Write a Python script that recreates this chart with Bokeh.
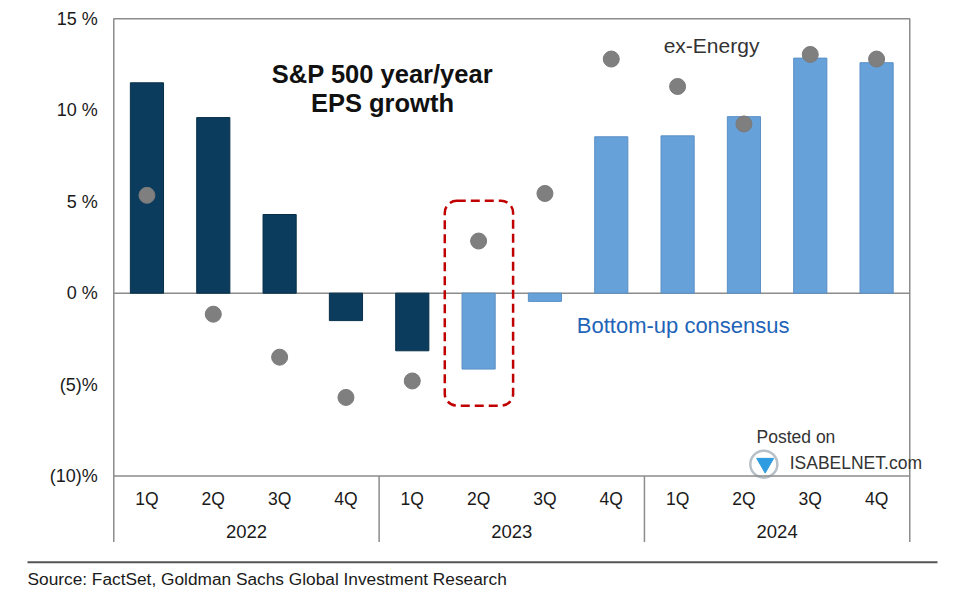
from bokeh.plotting import figure
from bokeh.models import (Range1d, FixedTicker, ColumnDataSource, Label, BoxAnnotation,
                          LinearAxis, CustomJSTickFormatter)
from bokeh.embed import file_html
from bokeh.resources import INLINE

# ---------------- data ----------------
years = ["2022", "2023", "2024"]
quarters = ["1Q", "2Q", "3Q", "4Q"]
consensus = [11.5, 9.6, 4.3, -1.5, -3.15, -4.15, -0.45, 8.55, 8.6, 9.65, 12.85, 12.6]
ex_energy = [5.35, -1.15, -3.5, -5.7, -4.8, 2.85, 5.45, 12.8, 11.3, 9.25, 13.05, 12.8]
status = ["actual"] * 5 + ["estimate"] * 7
y_ticks = [-10, -5, 0, 5, 10, 15]
y_tick_labels = ["(10)%", "(5)%", "0 %", "5 %", "10 %", "15 %"]
highlight = ("2023", "2Q")

factors = [(y, q) for y in years for q in quarters]
n = len(factors)
centers = [i + 0.5 for i in range(n)]
quarter_labels = [q for _, q in factors]
group_sizes = [sum(1 for f in factors if f[0] == y) for y in years]
bounds = [0]
for s in group_sizes:
    bounds.append(bounds[-1] + s)
group_centers = [(a + b) / 2 for a, b in zip(bounds[:-1], bounds[1:])]

bar_colors = {"actual": "#0b3c5d", "estimate": "#67a1d9"}
edge_colors = {"actual": "#072f49", "estimate": "#5a90c6"}

src = ColumnDataSource(dict(
    x=centers,
    consensus=consensus,
    ex_energy=ex_energy,
    fill=[bar_colors[s] for s in status],
    edge=[edge_colors[s] for s in status],
))

FONT = "Liberation Sans"
GRID = "#8c8c8c"
TXT = "#1a1a1a"
W, H = 960, 594
ymin, ymax = y_ticks[0], y_ticks[-1]

p = figure(x_range=Range1d(-1.708, 12.765), y_range=Range1d(-16.474, 16.0),
           width=W, height=H, output_backend="svg", toolbar_location=None,
           x_axis_type=None, y_axis_type=None,
           min_border_left=0, min_border_right=0, min_border_top=0, min_border_bottom=0)
p.xgrid.visible = False
p.ygrid.visible = False
p.outline_line_color = None
p.background_fill_color = "white"
p.border_fill_color = "white"

def style_axis(ax, size, standoff):
    ax.axis_line_color = None
    ax.major_tick_line_color = None
    ax.minor_tick_line_color = None
    ax.major_tick_out = 0
    ax.major_tick_in = 0
    ax.minor_tick_out = 0
    ax.major_label_standoff = standoff
    ax.major_label_text_font = FONT
    ax.major_label_text_font_size = size
    ax.major_label_text_color = TXT

# y axis at the left edge of the value box
yax = LinearAxis(ticker=FixedTicker(ticks=y_ticks), fixed_location=0,
                 major_label_overrides={t: l for t, l in zip(y_ticks, y_tick_labels)})
style_axis(yax, "18px", 16)
p.add_layout(yax, "left")

# quarter axis and year axis at the bottom of the value box
qax = LinearAxis(ticker=FixedTicker(ticks=centers), fixed_location=ymin,
                 formatter=CustomJSTickFormatter(args=dict(labels=quarter_labels),
                                                 code="return labels[Math.floor(tick)]"))
style_axis(qax, "17.5px", 13)
p.add_layout(qax, "below")

yrax = LinearAxis(ticker=FixedTicker(ticks=group_centers), fixed_location=ymin,
                  formatter=CustomJSTickFormatter(args=dict(labels=years, size=group_sizes[0]),
                                                  code="return labels[Math.floor(tick / size)]"))
style_axis(yrax, "18.5px", 49)
p.add_layout(yrax, "below")

# plot box
p.add_layout(BoxAnnotation(left=0, right=n, top=ymax, bottom=ymin, fill_alpha=0,
                           line_color=GRID, line_alpha=1, line_width=1.5))
# year separators and box edges extended below the box
p.segment(x0=bounds, x1=bounds, y0=[ymin] * len(bounds), y1=[-13.61] * len(bounds),
          line_color=GRID, line_width=1.5)
# zero line
p.segment(x0=[0], x1=[n], y0=[0], y1=[0], line_color=GRID, line_width=1.5)

# bars and dots
p.vbar(x="x", top="consensus", bottom=0, width=0.5, fill_color="fill",
       line_color="edge", line_width=1, source=src)
p.scatter(x="x", y="ex_energy", size=16, fill_color="#7f7f7f", line_color="#7a7a7a", source=src)

# highlight box around the highlighted quarter
hi = factors.index(highlight)
p.add_layout(BoxAnnotation(left=hi - 0.01, right=hi + 1.02, top=5.05, bottom=-6.15,
                           fill_alpha=0, line_color="#c00000", line_alpha=1, line_width=2.5,
                           line_dash="9 5", border_radius=12))

# texts (data coordinates)
def lab(x, y, text, size, color=TXT, style="normal", align="left"):
    p.add_layout(Label(x=x, y=y, text=text, text_align=align, text_baseline="alphabetic",
                       text_font=FONT, text_font_size=size, text_font_style=style,
                       text_color=color))

lab(4.05, 11.97, "S&P 500 year/year", "25.5px", "#111111", "bold", "center")
lab(4.05, 10.4, "EPS growth", "25.5px", "#111111", "bold", "center")
lab(8.29, 13.52, "ex-Energy", "21px", "#333333")
lab(6.98, -1.75, "Bottom-up consensus", "22px", "#1f64b8")
lab(9.69, -7.89, "Posted on", "17.5px", "#333333")
lab(10.19, -9.26, "ISABELNET.com", "17.5px", "#333333")

# watermark logo
p.scatter(x=[9.8], y=[-9.35], marker="circle", size=27, fill_alpha=0,
          line_color="#b8c0c8", line_width=2.5)
p.scatter(x=[9.82], y=[-9.3], marker="inverted_triangle", size=17,
          fill_color="#2f9be0", line_color="#2f9be0")

# footer (screen units)
p.add_layout(BoxAnnotation(left=27, right=937, bottom=H - 562.7, top=H - 560.7,
                           left_units="screen", right_units="screen",
                           top_units="screen", bottom_units="screen",
                           fill_color="#555555", fill_alpha=1, line_alpha=0))
p.add_layout(Label(x=27, y=H - 578, x_units="screen", y_units="screen",
                   text="Source: FactSet, Goldman Sachs Global Investment Research",
                   text_align="left", text_baseline="alphabetic", text_font=FONT,
                   text_font_size="17.3px", text_color=TXT))

open("out.html", "w").write(file_html(p, INLINE))
